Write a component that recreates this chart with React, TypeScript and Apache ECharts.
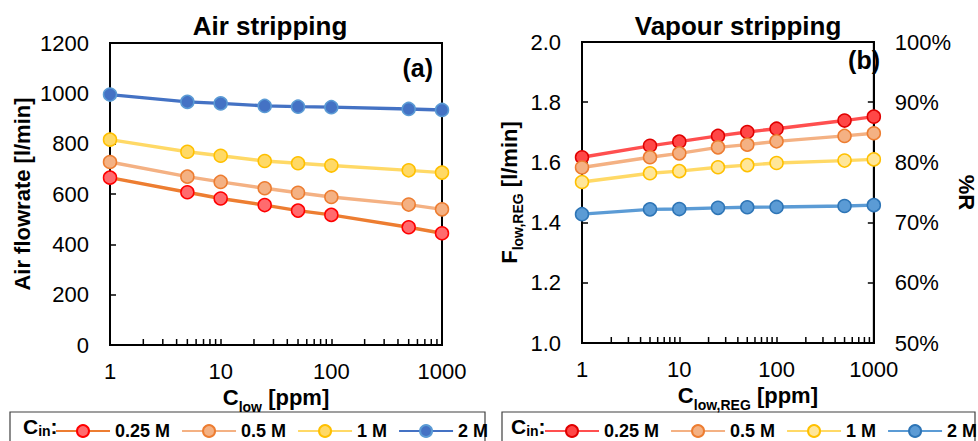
import React, { useEffect, useRef } from "react";
import * as echarts from "echarts";

const xValues = [1, 5, 10, 25, 50, 100, 500, 1000];
const seriesLabels = ["0.25 M", "0.5 M", "1 M", "2 M"];

const airFlow025 = [665, 607, 582, 556, 534, 517, 468, 444];
const airFlow05 = [727, 669, 648, 623, 605, 588, 558, 539];
const airFlow1 = [816, 768, 752, 731, 722, 713, 694, 685];
const airFlow2 = [995, 966, 960, 950, 947, 945, 938, 934];

const vapour025 = [1.617, 1.655, 1.669, 1.688, 1.701, 1.712, 1.739, 1.752];
const vapour05 = [1.583, 1.617, 1.63, 1.65, 1.659, 1.67, 1.688, 1.697];
const vapour1 = [1.535, 1.564, 1.571, 1.584, 1.591, 1.598, 1.606, 1.61];
const vapour2 = [1.428, 1.444, 1.445, 1.449, 1.451, 1.452, 1.455, 1.458];

const minorTickValues = [2, 3, 4, 5, 6, 7, 8, 9, 20, 30, 40, 50, 60, 70, 80, 90, 200, 300, 400, 500, 600, 700, 800, 900];

const FONT = 'Arial, "Liberation Sans", sans-serif';

const airStyles = [
  { line: "#ED7D31", fill: "#FF6B6E", border: "#FF0000" },
  { line: "#F4B183", fill: "#F4B183", border: "#ED7D31" },
  { line: "#FFD966", fill: "#FFD966", border: "#FFC000" },
  { line: "#4472C4", fill: "#4472C4", border: "#5B9BD5" },
];
const vapourStyles = [
  { line: "#FF4F4F", fill: "#FF4747", border: "#E00000" },
  { line: "#F4B183", fill: "#F4B183", border: "#ED7D31" },
  { line: "#FFD966", fill: "#FFE699", border: "#FFC000" },
  { line: "#5B9BD5", fill: "#5B9BD5", border: "#2E75B6" },
];

function lineSeries(prefix: string, idx: number, values: number[], st: any, xAxisIndex: number, yAxisIndex: number) {
  return {
    type: "line",
    name: prefix + "|" + seriesLabels[idx],
    xAxisIndex,
    yAxisIndex,
    data: xValues.map((x, i) => [x, values[i]]),
    symbol: "circle",
    symbolSize: 13,
    lineStyle: { color: st.line, width: 3.4 },
    itemStyle: { color: st.fill, borderColor: st.border, borderWidth: 1.5 },
    z: 3,
  };
}

function minorTicks(xAxisIndex: number, yAxisIndex: number, yBase: number) {
  return {
    type: "custom",
    xAxisIndex,
    yAxisIndex,
    silent: true,
    z: 5,
    data: minorTickValues.map((v) => [v, yBase]),
    renderItem: (params: any, api: any) => {
      const p = api.coord([api.value(0), api.value(1)]);
      return {
        type: "line",
        shape: { x1: p[0], y1: p[1], x2: p[0], y2: p[1] - 6 },
        style: { stroke: "#000", lineWidth: 1.5 },
      };
    },
  };
}

const axisLabelStyle = { color: "#000", fontSize: 22, fontFamily: FONT };
const tickStyle = { show: true, inside: true, length: 6, lineStyle: { color: "#000", width: 1.5 } };
const axisLineStyle = { show: true, lineStyle: { color: "#000", width: 2 } };

const subRich = {
  b: { fontSize: 22, fontWeight: "bold", fontFamily: FONT, color: "#000", lineHeight: 32, verticalAlign: "middle" },
  s: { fontSize: 14, fontWeight: "bold", fontFamily: FONT, color: "#000", lineHeight: 14, verticalAlign: "bottom" },
};

const cinRich = {
  c: { fontSize: 21, fontWeight: "bold", fontFamily: FONT, fill: "#000", lineHeight: 24, verticalAlign: "middle" },
  s: { fontSize: 14, fontWeight: "bold", fontFamily: FONT, fill: "#000", lineHeight: 10, verticalAlign: "bottom" },
};

export default function App() {
  const ref = useRef<HTMLDivElement>(null);
  useEffect(() => {
    if (!ref.current) return;
    const chart = echarts.init(ref.current, undefined, { renderer: "svg" });
    const legendCommon = {
      orient: "horizontal",
      padding: 0,
      itemWidth: 54,
      itemHeight: 15,
      itemGap: 11,
      selectedMode: false,
      formatter: (n: string) => n.split("|")[1],
      textStyle: { color: "#000", fontSize: 18, fontWeight: "bold", fontFamily: FONT },
    };
    const plain = (v: number) => String(v);
    const option: any = {
      animation: false,
      backgroundColor: "#fff",
      grid: [
        { left: 110, top: 43, width: 332, height: 302, show: true, borderColor: "#000", borderWidth: 2, backgroundColor: "transparent" },
        { left: 582, top: 42, width: 301, height: 301, show: true, borderColor: "#000", borderWidth: 2, backgroundColor: "transparent" },
      ],
      xAxis: [
        {
          type: "log",
          logBase: 10,
          gridIndex: 0,
          min: 1,
          max: 1000,
          axisLine: axisLineStyle,
          axisTick: tickStyle,
          splitLine: { show: false },
          axisLabel: { ...axisLabelStyle, margin: 15, formatter: plain },
          name: "{b|C}{s|low}{b| [ppm]}",
          nameLocation: "middle",
          nameGap: 30,
          nameTextStyle: { rich: subRich },
        },
        {
          type: "log",
          logBase: 10,
          gridIndex: 1,
          min: 1,
          max: 1000,
          axisLine: axisLineStyle,
          axisTick: tickStyle,
          splitLine: { show: false },
          axisLabel: { ...axisLabelStyle, margin: 15, formatter: plain },
          name: "{b|C}{s|low,REG}{b| [ppm]}",
          nameLocation: "middle",
          nameGap: 30,
          nameTextStyle: { rich: subRich, padding: [0, 0, 0, 40] },
        },
      ],
      yAxis: [
        {
          type: "value",
          gridIndex: 0,
          min: 0,
          max: 1200,
          interval: 200,
          axisLine: axisLineStyle,
          axisTick: tickStyle,
          splitLine: { show: false },
          axisLabel: { ...axisLabelStyle, margin: 21, formatter: plain },
          name: "Air flowrate [l/min]",
          nameLocation: "middle",
          nameGap: 77,
          nameTextStyle: { color: "#000", fontSize: 22, fontWeight: "bold", fontFamily: FONT },
        },
        {
          type: "value",
          gridIndex: 1,
          min: 1,
          max: 2,
          interval: 0.2,
          axisLine: axisLineStyle,
          axisTick: tickStyle,
          splitLine: { show: false },
          axisLabel: { ...axisLabelStyle, margin: 21, formatter: (v: number) => v.toFixed(1) },
          name: "{b|F}{s|low,REG}{b| [l/min]}",
          nameLocation: "middle",
          nameGap: 57,
          nameTextStyle: { rich: subRich },
        },
        {
          type: "value",
          gridIndex: 1,
          position: "right",
          min: 0.5,
          max: 1,
          interval: 0.1,
          axisLine: axisLineStyle,
          axisTick: tickStyle,
          splitLine: { show: false },
          axisLabel: { ...axisLabelStyle, margin: 21, formatter: (v: number) => Math.round(v * 100) + "%" },
          name: "%R",
          nameLocation: "middle",
          nameRotate: -90,
          nameGap: 74,
          nameTextStyle: { color: "#000", fontSize: 22, fontWeight: "bold", fontFamily: FONT },
        },
      ],
      legend: [
        { ...legendCommon, left: 55, top: 422, data: seriesLabels.map((n) => "a|" + n) },
        { ...legendCommon, left: 544, top: 422, data: seriesLabels.map((n) => "b|" + n) },
      ],
      graphic: [
        { type: "text", x: 270, y: 26, style: { text: "Air stripping", font: `bold 26px ${FONT}`, fill: "#000", textAlign: "center", textVerticalAlign: "middle" } },
        { type: "text", x: 738, y: 26, style: { text: "Vapour stripping", font: `bold 26px ${FONT}`, fill: "#000", textAlign: "center", textVerticalAlign: "middle" } },
        { type: "text", x: 433, y: 68, style: { text: "(a)", font: `bold 25px ${FONT}`, fill: "#000", textAlign: "right", textVerticalAlign: "middle" } },
        { type: "text", x: 880, y: 60, style: { text: "(b)", font: `bold 25px ${FONT}`, fill: "#000", textAlign: "right", textVerticalAlign: "middle" } },
        { type: "rect", shape: { x: 10, y: 412, width: 475, height: 40 }, style: { fill: "none", stroke: "#404040", lineWidth: 1.2 } },
        { type: "rect", shape: { x: 502, y: 412, width: 473, height: 40 }, style: { fill: "none", stroke: "#404040", lineWidth: 1.2 } },
        { type: "text", x: 23, y: 426, style: { text: "{c|C}{s|in}{c|:}", textVerticalAlign: "middle", rich: cinRich } },
        { type: "text", x: 511, y: 426, style: { text: "{c|C}{s|in}{c|:}", textVerticalAlign: "middle", rich: cinRich } },
      ],
      series: [
        lineSeries("a", 0, airFlow025, airStyles[0], 0, 0),
        lineSeries("a", 1, airFlow05, airStyles[1], 0, 0),
        lineSeries("a", 2, airFlow1, airStyles[2], 0, 0),
        lineSeries("a", 3, airFlow2, airStyles[3], 0, 0),
        lineSeries("b", 0, vapour025, vapourStyles[0], 1, 1),
        lineSeries("b", 1, vapour05, vapourStyles[1], 1, 1),
        lineSeries("b", 2, vapour1, vapourStyles[2], 1, 1),
        lineSeries("b", 3, vapour2, vapourStyles[3], 1, 1),
        minorTicks(0, 0, 0),
        minorTicks(1, 1, 1),
      ],
    };
    chart.setOption(option);
    return () => chart.dispose();
  }, []);
  return <div ref={ref} style={{ width: 978, height: 441, position: "absolute", left: 0, top: 0 }} />;
}
